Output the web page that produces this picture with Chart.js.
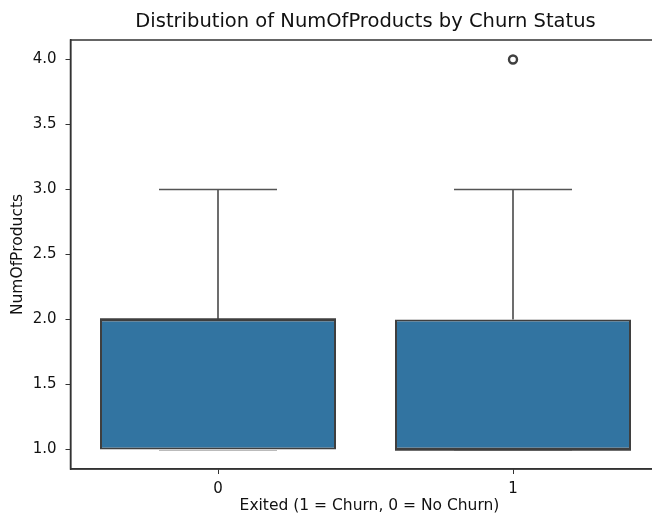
<!DOCTYPE html>
<html>
<head>
<meta charset="utf-8">
<script src="https://cdn.jsdelivr.net/npm/chart.js@4/dist/chart.umd.min.js"></script>
<style>
  html, body { margin: 0; padding: 0; background: #fff; overflow: hidden; width: 652px; height: 516px; }
  #wrap { position: absolute; left: 0; top: 0; width: 680px; height: 516px; }
</style>
</head>
<body>
<div id="wrap"><canvas id="c" width="680" height="516"></canvas></div>
<script>
// Box-plot summary of NumOfProducts per churn group
const categories = ['0', '1'];
const q1 = [1, 1];
const median = [2, 1];
const q3 = [2, 2];
const whiskerLow = [1, 1];
const whiskerHigh = [3, 3];
const outliers = [[], [4]];
const yTicks = [1.0, 1.5, 2.0, 2.5, 3.0, 3.5, 4.0];

const titleText = 'Distribution of NumOfProducts by Churn Status';
const xTitle = 'Exited (1 = Churn, 0 = No Churn)';
const yTitle = 'NumOfProducts';

const FONT = '"DejaVu Sans", sans-serif';
const TEXT = '#111111';
const BOX_FILL = '#3274a1';
const EDGE = '#3f3f3f';
const WHISK = '#555555';

const boxData = categories.map((c, i) => [q1[i], q3[i]]);
const outlierPoints = [];
categories.forEach((c, i) => outliers[i].forEach(v => outlierPoints.push({ x: c, y: v })));

// Whiskers, caps, medians, frame and text labels
const boxExtras = {
  id: 'boxExtras',
  afterDatasetsDraw(chart) {
    const { ctx, chartArea, scales } = chart;
    const ys = scales.y;
    const meta = chart.getDatasetMeta(0);
    ctx.save();
    categories.forEach((c, i) => {
      const bar = meta.data[i];
      const cx = bar.x;
      const half = bar.width / 2;
      const capHalf = half / 2;
      const yq1 = ys.getPixelForValue(q1[i]);
      const yq3 = ys.getPixelForValue(q3[i]);
      const ylo = ys.getPixelForValue(whiskerLow[i]);
      const yhi = ys.getPixelForValue(whiskerHigh[i]);
      ctx.strokeStyle = WHISK;
      ctx.lineWidth = 1.7;
      ctx.beginPath();
      ctx.moveTo(cx, yq3); ctx.lineTo(cx, yhi);
      ctx.moveTo(cx - capHalf, yhi); ctx.lineTo(cx + capHalf, yhi);
      ctx.moveTo(cx, yq1); ctx.lineTo(cx, ylo);
      ctx.stroke();
      ctx.strokeStyle = 'rgba(170,170,170,0.8)';
      ctx.lineWidth = 1;
      ctx.beginPath();
      ctx.moveTo(cx - capHalf, ylo + 1); ctx.lineTo(cx + capHalf, ylo + 1);
      ctx.stroke();
      // median
      const ym = ys.getPixelForValue(median[i]);
      ctx.strokeStyle = EDGE;
      ctx.lineWidth = 2.4;
      ctx.beginPath();
      ctx.moveTo(cx - half, ym); ctx.lineTo(cx + half, ym);
      ctx.stroke();
    });
    // axes frame
    ctx.strokeStyle = '#333';
    ctx.lineWidth = 1.5;
    ctx.strokeRect(chartArea.left, chartArea.top, chartArea.right - chartArea.left, chartArea.bottom - chartArea.top);
    // texts
    const midX = (chartArea.left + chartArea.right) / 2;
    ctx.fillStyle = TEXT;
    ctx.textAlign = 'center';
    ctx.textBaseline = 'middle';
    ctx.font = '19.5px ' + FONT;
    ctx.fillText(titleText, midX, 22);
    ctx.font = '15.5px ' + FONT;
    ctx.fillText(xTitle, midX + 4, 506);
    ctx.save();
    ctx.translate(18, (chartArea.top + chartArea.bottom) / 2);
    ctx.rotate(-Math.PI / 2);
    ctx.fillText(yTitle, 0, 0);
    ctx.restore();
    ctx.restore();
  }
};

new Chart(document.getElementById('c'), {
  type: 'bar',
  data: {
    labels: categories,
    datasets: [
      {
        type: 'bar',
        data: boxData,
        backgroundColor: BOX_FILL,
        borderColor: EDGE,
        borderWidth: 2,
        borderSkipped: false,
        barPercentage: 0.8,
        categoryPercentage: 1.0,
        order: 2
      },
      {
        type: 'scatter',
        data: outlierPoints,
        pointStyle: 'circle',
        pointRadius: 4,
        pointBorderWidth: 2.4,
        pointBorderColor: EDGE,
        pointBackgroundColor: 'rgba(255,255,255,0)',
        order: 1
      }
    ]
  },
  options: {
    responsive: false,
    animation: false,
    events: [],
    layout: { padding: { left: 0, right: 19.5, top: 40, bottom: 0 } },
    plugins: { legend: { display: false }, title: { display: false }, tooltip: { enabled: false } },
    scales: {
      x: {
        type: 'category',
        offset: true,
        grid: { display: true, drawOnChartArea: false, drawTicks: true, tickLength: 5, color: '#333', offset: false },
        border: { display: true, color: '#333', width: 1.5 },
        ticks: { color: TEXT, font: { family: FONT, size: 15 }, padding: 6 },
        afterFit(scale) { scale.height = 47; }
      },
      y: {
        type: 'linear',
        min: 0.85,
        max: 4.15,
        afterBuildTicks(scale) { scale.ticks = yTicks.map(v => ({ value: v })); },
        grid: { display: true, drawOnChartArea: false, drawTicks: true, tickLength: 5, color: '#333' },
        border: { display: true, color: '#333', width: 1.5 },
        ticks: { color: TEXT, font: { family: FONT, size: 15 }, padding: 9, callback: v => Number(v).toFixed(1) },
        afterFit(scale) { scale.width = 70.5; }
      }
    }
  },
  plugins: [boxExtras]
});
</script>
</body>
</html>
